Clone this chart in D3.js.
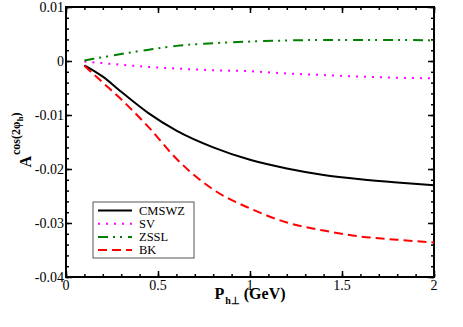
<!DOCTYPE html>
<html>
<head>
<meta charset="utf-8">
<script src="https://cdn.jsdelivr.net/npm/d3@7"></script>
<style>
  body { margin: 0; background: #fff; }
</style>
</head>
<body>
<div id="chart"></div>
<script>
// values
const pt = [0.1, 0.2, 0.3, 0.45, 0.6, 0.8, 1.0, 1.2, 1.4, 1.6, 1.8, 2.0];
const cmswz = [-0.0008, -0.0029, -0.0057, -0.0097, -0.0129, -0.0160, -0.0183, -0.0199, -0.0211, -0.0219, -0.0225, -0.0230];
const sv = [-0.0001, -0.0004, -0.0007, -0.0011, -0.0014, -0.0017, -0.0019, -0.0023, -0.0026, -0.0029, -0.0031, -0.0032];
const zssl = [0.0001, 0.0007, 0.0013, 0.0021, 0.0028, 0.0033, 0.0036, 0.0038, 0.0039, 0.0039, 0.0039, 0.0038];
const bk = [-0.0009, -0.0040, -0.0071, -0.0123, -0.0181, -0.0238, -0.0273, -0.0299, -0.0314, -0.0325, -0.0331, -0.0336];
const xTicks = [0, 0.5, 1, 1.5, 2];
const yTicks = [0.01, 0, -0.01, -0.02, -0.03, -0.04];

const series = [
  {name: "CMSWZ", vals: cmswz, color: "#000000", dash: null},
  {name: "SV", vals: sv, color: "#ff00ff", dash: "2,6"},
  {name: "ZSSL", vals: zssl, color: "#008000", dash: "10,5,2,5,2,6"},
  {name: "BK", vals: bk, color: "#ff0000", dash: "9,5"}
];

const FONT = "'Liberation Serif'";
const W = 463, H = 327;
const margin = {top: 7, right: 29, bottom: 50, left: 66};
const width = W - margin.left - margin.right;
const height = H - margin.top - margin.bottom;

const svg = d3.select("#chart").append("svg")
    .attr("width", W)
    .attr("height", H)
    .style("font-family", FONT);

const g = svg.append("g")
    .attr("transform", "translate(" + margin.left + "," + margin.top + ")");

const x = d3.scaleLinear().domain([0, 2]).range([0, width]);
const y = d3.scaleLinear().domain([-0.04, 0.01]).range([height, 0]);

const fmtY = d => d === 0 ? "0" : d3.format(".2f")(d).replace("\u2212", "-");

// minor ticks
const xMinor = d3.range(0, 2.0001, 0.1);
const yMinor = d3.range(-0.04, 0.01001, 0.002);

function addTicks(axisFn, scale, vals, len, trans) {
  const a = g.append("g")
      .attr("transform", trans)
      .call(axisFn(scale).tickValues(vals).tickSizeInner(len).tickSizeOuter(0).tickFormat(""));
  a.select(".domain").remove();
  a.selectAll(".tick line").attr("stroke", "#000").attr("stroke-width", 1.5);
  return a;
}

// ticks on all four sides, pointing inwards
addTicks(d3.axisTop, x, xMinor, 3, "translate(0," + height + ")");
addTicks(d3.axisTop, x, xTicks, 6, "translate(0," + height + ")");
addTicks(d3.axisBottom, x, xMinor, 3, "translate(0,0)");
addTicks(d3.axisBottom, x, xTicks, 6, "translate(0,0)");
addTicks(d3.axisRight, y, yMinor, 3, "translate(0,0)");
addTicks(d3.axisRight, y, yTicks, 6, "translate(0,0)");
addTicks(d3.axisLeft, y, yMinor, 3, "translate(" + width + ",0)");
addTicks(d3.axisLeft, y, yTicks, 6, "translate(" + width + ",0)");

// tick labels
g.selectAll(".xlab").data(xTicks).enter().append("text")
    .attr("x", d => x(d))
    .attr("y", height + 13)
    .attr("text-anchor", "middle")
    .attr("font-size", 14)
    .style("font-family", FONT)
    .text(d => d);

g.selectAll(".ylab").data(yTicks).enter().append("text")
    .attr("x", -2)
    .attr("y", d => y(d) + 4.5)
    .attr("text-anchor", "end")
    .attr("font-size", 14)
    .style("font-family", FONT)
    .text(fmtY);

// frame
g.append("rect")
    .attr("width", width)
    .attr("height", height)
    .attr("fill", "none")
    .attr("stroke", "#000")
    .attr("stroke-width", 2);

// curves
const line = d3.line()
    .x((d, i) => x(pt[i]))
    .y(d => y(d))
    .curve(d3.curveMonotoneX);

series.forEach(s => {
  g.append("path")
      .attr("d", line(s.vals))
      .attr("fill", "none")
      .attr("stroke", s.color)
      .attr("stroke-width", 2)
      .attr("stroke-dasharray", s.dash);
});

// legend
const leg = g.append("g").attr("transform", "translate(" + (93 - margin.left) + "," + (202 - margin.top) + ")");
leg.append("rect")
    .attr("width", 101)
    .attr("height", 56)
    .attr("fill", "#fff")
    .attr("stroke", "#555")
    .attr("stroke-width", 1);
series.forEach((s, i) => {
  const yy = 8.5 + i * 13.2;
  leg.append("line")
      .attr("x1", 5).attr("x2", 39)
      .attr("y1", yy).attr("y2", yy)
      .attr("stroke", s.color)
      .attr("stroke-width", 2)
      .attr("stroke-dasharray", s.dash);
  leg.append("text")
      .attr("x", 46)
      .attr("y", yy + 4.3)
      .attr("font-size", 12.5)
      .style("font-family", FONT)
      .text(s.name);
});

// x title
const xt = svg.append("text")
    .attr("x", margin.left + x(1))
    .attr("y", 299)
    .attr("text-anchor", "middle")
    .attr("font-size", 16)
    .attr("font-weight", "bold")
    .style("font-family", FONT);
xt.append("tspan").text("P");
xt.append("tspan").attr("font-size", 10).attr("dx", 1).attr("dy", 5).text("h\u22A5");
xt.append("tspan").attr("dy", -5).text(" (GeV)");

// y title
const yt = svg.append("text")
    .attr("transform", "translate(31,140) rotate(-90)")
    .attr("text-anchor", "middle")
    .attr("font-size", 16)
    .attr("font-weight", "bold")
    .style("font-family", FONT);
yt.append("tspan").text("A");
yt.append("tspan").attr("font-size", 12).attr("dx", 1).attr("dy", -11).text("cos(2\u03C6");
yt.append("tspan").attr("font-size", 9).attr("dy", 3).text("h");
yt.append("tspan").attr("font-size", 12).attr("dy", -3).text(")");
</script>
</body>
</html>
